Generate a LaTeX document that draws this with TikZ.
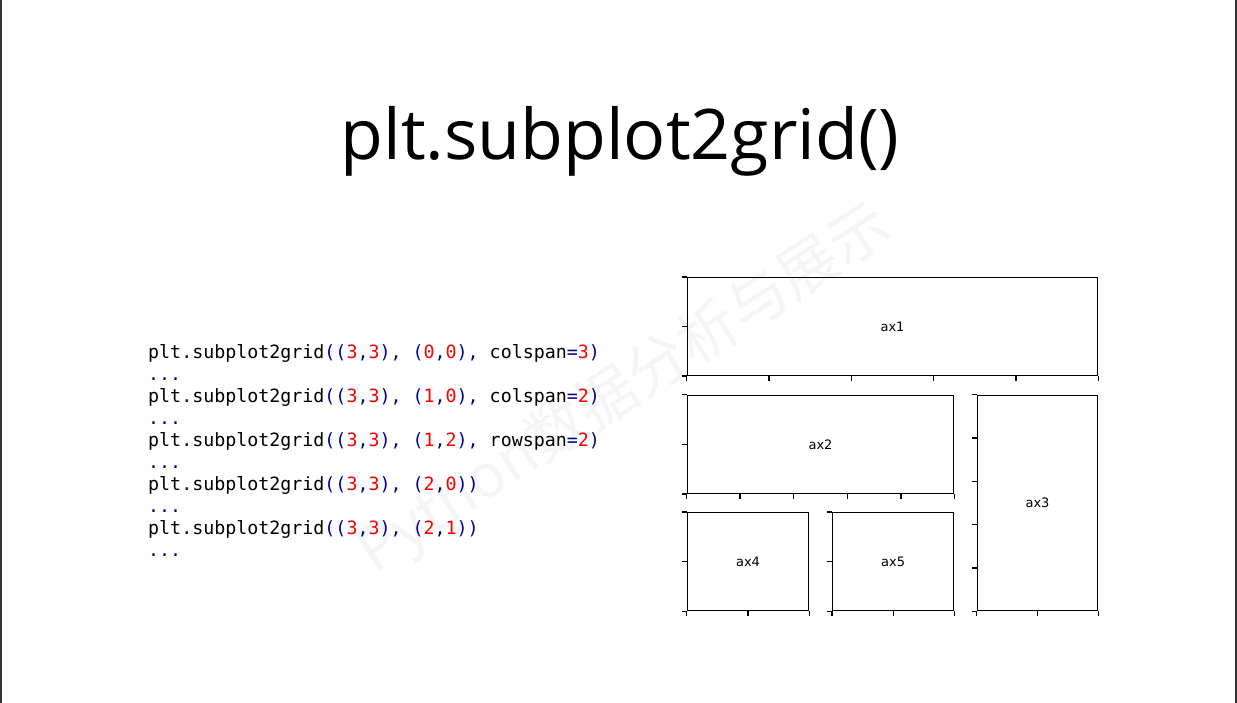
\documentclass[tikz,border=0pt]{standalone}
\usepackage{fontspec}
\usetikzlibrary{calc}
\setmainfont{Open Sans}
\newfontfamily\codefont{DejaVu Sans Mono}
\newfontfamily\axfont{DejaVu Sans}
\newfontfamily\cjkmark{Noto Sans CJK SC}
\usepackage{xcolor}
\definecolor{codeblue}{RGB}{0,0,140}
\definecolor{codered}{RGB}{255,0,0}
\newcommand{\pn}[1]{\textcolor{codeblue}{#1}}
\newcommand{\nm}[1]{\textcolor{codered}{#1}}

\begin{document}
\begin{tikzpicture}[x=1pt, y=-1pt, every node/.style={inner sep=0pt}]
\tikzstyle{axbox}=[draw, line width=1.4pt, font=\axfont\fontsize{13}{15}\selectfont]
\tikzstyle{tick}=[line width=1.4pt]
\tikzstyle{codeline}=[anchor=base west, font=\codefont\fontsize{18.3}{22}\selectfont]
\useasboundingbox (0,0) rectangle (1237,703);
\draw[line width=1.2pt, black!80] (1,0) -- (1,703) (1236,0) -- (1236,703);
% watermark
\node[text=black!4, font=\cjkmark\fontsize{60}{60}\selectfont, rotate=33] (mark) at (625,390) {Python数据分析与展示};
% title
\node[anchor=base, font=\fontsize{69.9}{72}\selectfont] (title) at (620,160) {plt.subplot2grid()};
% code
\node[codeline] (c1) at (148,358) {plt\pn{.}subplot2grid\pn{((}\nm{3}\pn{,}\nm{3}\pn{), (}\nm{0}\pn{,}\nm{0}\pn{),} colspan\pn{=}\nm{3}\pn{)}};
\node[codeline] (d1) at (148,380) {\pn{...}};
\node[codeline] (c2) at (148,402) {plt\pn{.}subplot2grid\pn{((}\nm{3}\pn{,}\nm{3}\pn{), (}\nm{1}\pn{,}\nm{0}\pn{),} colspan\pn{=}\nm{2}\pn{)}};
\node[codeline] (d2) at (148,424) {\pn{...}};
\node[codeline] (c3) at (148,446) {plt\pn{.}subplot2grid\pn{((}\nm{3}\pn{,}\nm{3}\pn{), (}\nm{1}\pn{,}\nm{2}\pn{),} rowspan\pn{=}\nm{2}\pn{)}};
\node[codeline] (d3) at (148,468) {\pn{...}};
\node[codeline] (c4) at (148,490) {plt\pn{.}subplot2grid\pn{((}\nm{3}\pn{,}\nm{3}\pn{), (}\nm{2}\pn{,}\nm{0}\pn{))}};
\node[codeline] (d4) at (148,512) {\pn{...}};
\node[codeline] (c5) at (148,534) {plt\pn{.}subplot2grid\pn{((}\nm{3}\pn{,}\nm{3}\pn{), (}\nm{2}\pn{,}\nm{1}\pn{))}};
\node[codeline] (d5) at (148,556) {\pn{...}};
% axes
\node[axbox, minimum width=410.4pt, minimum height=97.6pt] (ax1) at (892.5,326.5) {ax1};
\node[axbox, minimum width=266.4pt, minimum height=98pt] (ax2) at (820.5,444.3) {ax2};
\node[axbox, minimum width=120.4pt, minimum height=215.4pt] (ax3) at (1037.5,503) {ax3};
\node[axbox, minimum width=121.4pt, minimum height=98pt] (ax4) at (748,561.7) {ax4};
\node[axbox, minimum width=121pt, minimum height=98pt] (ax5) at (893.2,561.7) {ax5};
\foreach \n/\nx/\ny in {ax1/5/2, ax2/5/2, ax3/2/5, ax4/2/2, ax5/2/2} {
  \foreach \i in {0,...,\nx} \draw[tick] ($(\n.south west)!\i/\nx!(\n.south east)$) -- ++(0,5);
  \foreach \j in {0,...,\ny} \draw[tick] ($(\n.south west)!\j/\ny!(\n.north west)$) -- ++(-5,0);
}
\end{tikzpicture}
\end{document}
